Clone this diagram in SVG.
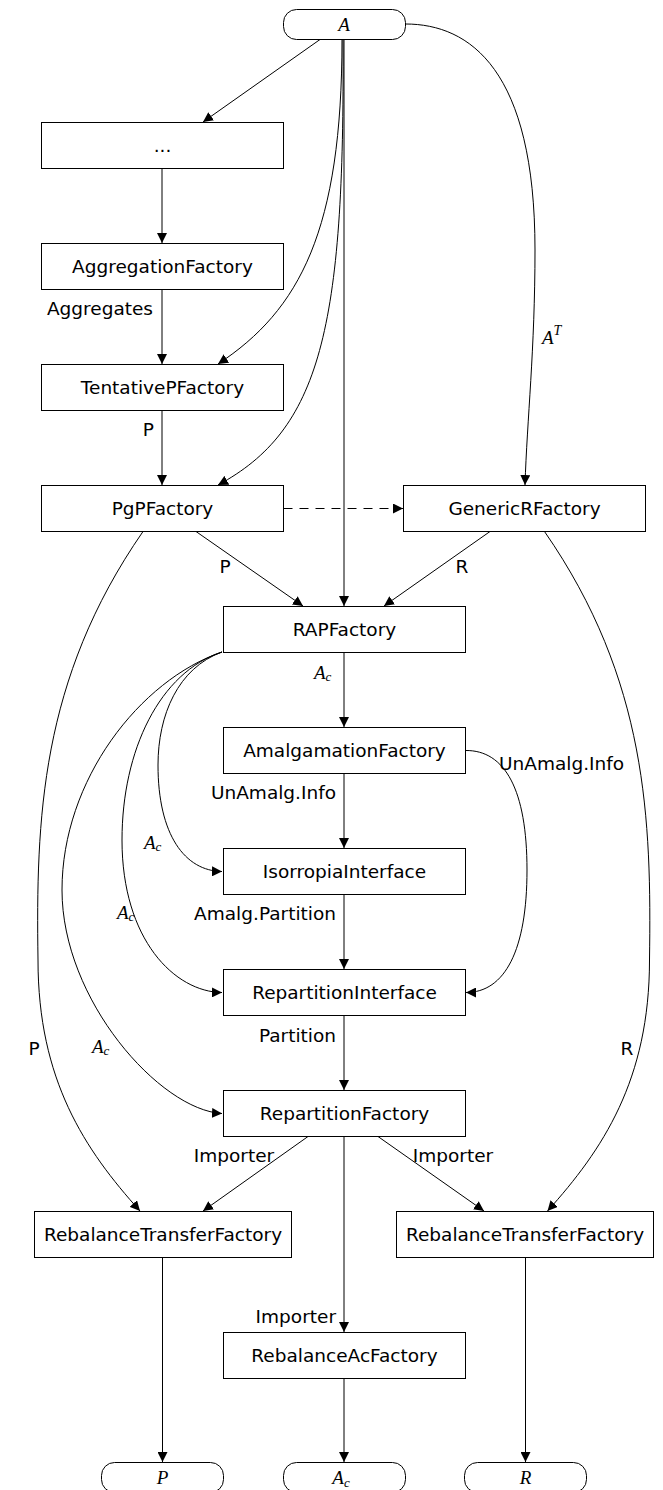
<svg xmlns="http://www.w3.org/2000/svg" width="663" height="1490" viewBox="0 0 663 1490">
<style>
.n rect{fill:#fff;stroke:#000;stroke-width:1}
.t{font-family:"DejaVu Sans",sans-serif;font-size:18.5px;text-anchor:middle;dominant-baseline:central;fill:#000}
.l{font-family:"DejaVu Sans",sans-serif;font-size:18.5px;dominant-baseline:central;fill:#000}
.m{font-family:"Liberation Serif",serif;font-style:italic;font-size:19px;dominant-baseline:central;fill:#000}
.e path{fill:none;stroke:#000;stroke-width:1;marker-end:url(#ah)}
.d{stroke-dasharray:9,7}
</style>
<defs>
<marker id="ah" markerUnits="userSpaceOnUse" markerWidth="10" markerHeight="10" refX="10" refY="5" orient="auto">
<path d="M0,0 L10,5 L0,10 z" fill="#000"/>
</marker>
</defs>
<rect width="663" height="1490" fill="#fff"/>
<g id="edges" class="e">
<path d="M320,39.5 L203,122"/>
<path d="M162,168.5 L162,243"/>
<path d="M162,289.5 L162,364"/>
<path d="M162,410.5 L162,485"/>
<path d="M342,39.5 C342,230 300,310 218,364"/>
<path d="M343,39.5 C345,330 320,430 218,485"/>
<path d="M344,39.5 L344,606"/>
<path d="M405.5,24 C470,24 535,70 535,250 C535,350 527,420 525,485"/>
<path class="d" d="M283.5,508.5 L403,508.5"/>
<path d="M196,531.5 L303,606"/>
<path d="M490,531.5 L384,606"/>
<path d="M344,652.5 L344,727"/>
<path d="M344,773.5 L344,848"/>
<path d="M344,894.5 L344,969"/>
<path d="M344,1015.5 L344,1090"/>
<path d="M222,652 C178,668 158,715 158,765 C158,835 185,871 222,871.5"/>
<path d="M222,652 C160,672 122,750 122,840 C122,940 175,992 222,992.5"/>
<path d="M222,652 C140,680 62,780 62,890 C62,1000 160,1110 222,1113.5"/>
<path d="M465.5,750.5 C505,750 527,790 527,870 C527,950 505,992.5 466,992.5"/>
<path d="M143,531.5 C40,680 36,820 38,960 C38,1080 85,1150 140,1211"/>
<path d="M544.5,531.5 C647.5,680 651.5,820 649.5,960 C649.5,1080 602.5,1150 547.5,1211"/>
<path d="M308,1136.5 L203,1211"/>
<path d="M378,1136.5 L484,1211"/>
<path d="M344,1136.5 L344,1332"/>
<path d="M162.5,1257.5 L162.5,1462"/>
<path d="M344,1378.5 L344,1462"/>
<path d="M525.5,1257.5 L525.5,1462"/>
</g>
<g id="edge-labels">
<text class="l" x="153" y="308" text-anchor="end">Aggregates</text>
<text class="l" x="154" y="429" text-anchor="end">P</text>
<text class="l" x="225" y="566" text-anchor="middle">P</text>
<text class="l" x="462" y="566" text-anchor="middle">R</text>
<text class="m" x="542" y="337">A<tspan font-size="14" dy="-7">T</tspan></text>
<text class="m" x="314" y="672">A<tspan font-size="13" dy="4">c</tspan></text>
<text class="l" x="336" y="792" text-anchor="end">UnAmalg.Info</text>
<text class="l" x="499" y="763">UnAmalg.Info</text>
<text class="m" x="144" y="842">A<tspan font-size="13" dy="4">c</tspan></text>
<text class="l" x="336" y="913" text-anchor="end">Amalg.Partition</text>
<text class="m" x="117" y="912">A<tspan font-size="13" dy="4">c</tspan></text>
<text class="l" x="336" y="1035" text-anchor="end">Partition</text>
<text class="m" x="92" y="1046">A<tspan font-size="13" dy="4">c</tspan></text>
<text class="l" x="34" y="1048" text-anchor="middle">P</text>
<text class="l" x="627" y="1048" text-anchor="middle">R</text>
<text class="l" x="234" y="1155" text-anchor="middle">Importer</text>
<text class="l" x="453" y="1155" text-anchor="middle">Importer</text>
<text class="l" x="336" y="1316" text-anchor="end">Importer</text>
</g>
<g id="A" class="n"><rect x="283.5" y="9.5" width="122" height="30" rx="13"/><text class="m" x="344" y="24.5" text-anchor="middle">A</text></g>
<g id="dots" class="n"><rect x="41.5" y="122.5" width="242" height="46"/><text class="t" x="162.5" y="145.5">...</text></g>
<g id="AggregationFactory" class="n"><rect x="41.5" y="243.5" width="242" height="46"/><text class="t" x="162.5" y="266.5">AggregationFactory</text></g>
<g id="TentativePFactory" class="n"><rect x="41.5" y="364.5" width="242" height="46"/><text class="t" x="162.5" y="387.5">TentativePFactory</text></g>
<g id="PgPFactory" class="n"><rect x="41.5" y="485.5" width="242" height="46"/><text class="t" x="162.5" y="508.5">PgPFactory</text></g>
<g id="GenericRFactory" class="n"><rect x="403.5" y="485.5" width="242" height="46"/><text class="t" x="524.5" y="508.5">GenericRFactory</text></g>
<g id="RAPFactory" class="n"><rect x="223.5" y="606.5" width="242" height="46"/><text class="t" x="344.5" y="629.5">RAPFactory</text></g>
<g id="AmalgamationFactory" class="n"><rect x="223.5" y="727.5" width="242" height="46"/><text class="t" x="344.5" y="750.5">AmalgamationFactory</text></g>
<g id="IsorropiaInterface" class="n"><rect x="223.5" y="848.5" width="242" height="46"/><text class="t" x="344.5" y="871.5">IsorropiaInterface</text></g>
<g id="RepartitionInterface" class="n"><rect x="223.5" y="969.5" width="242" height="46"/><text class="t" x="344.5" y="992.5">RepartitionInterface</text></g>
<g id="RepartitionFactory" class="n"><rect x="223.5" y="1090.5" width="242" height="46"/><text class="t" x="344.5" y="1113.5">RepartitionFactory</text></g>
<g id="RebalanceTransferFactoryP" class="n"><rect x="34.5" y="1211.5" width="257" height="46"/><text class="t" x="163" y="1234.5">RebalanceTransferFactory</text></g>
<g id="RebalanceTransferFactoryR" class="n"><rect x="396.5" y="1211.5" width="257" height="46"/><text class="t" x="525" y="1234.5">RebalanceTransferFactory</text></g>
<g id="RebalanceAcFactory" class="n"><rect x="223.5" y="1332.5" width="242" height="46"/><text class="t" x="344.5" y="1355.5">RebalanceAcFactory</text></g>
<g id="P" class="n"><rect x="101.5" y="1462.5" width="122" height="30" rx="13"/><text class="m" x="162.5" y="1477.5" text-anchor="middle">P</text></g>
<g id="Ac" class="n"><rect x="283.5" y="1462.5" width="122" height="30" rx="13"/><text class="m" x="341" y="1477.5" text-anchor="middle">A<tspan font-size="13" dy="4">c</tspan></text></g>
<g id="R" class="n"><rect x="464.5" y="1462.5" width="122" height="30" rx="13"/><text class="m" x="525.5" y="1477.5" text-anchor="middle">R</text></g>
</svg>
